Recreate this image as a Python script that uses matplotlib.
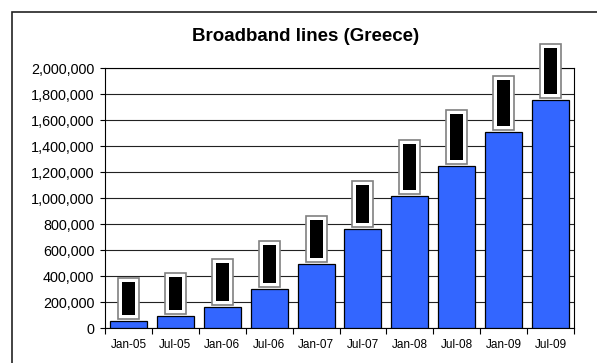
import matplotlib
matplotlib.use("Agg")
import matplotlib.pyplot as plt
from matplotlib.patches import Rectangle
import numpy as np

categories = ["Jan-05", "Jul-05", "Jan-06", "Jul-06", "Jan-07", "Jul-07",
              "Jan-08", "Jul-08", "Jan-09", "Jul-09"]
lines = [54000, 92000, 164000, 302000, 490000, 759000,
         1018000, 1248000, 1505000, 1754000]
yticks = list(range(0, 2000001, 200000))

plt.rcParams['font.family'] = ['Liberation Sans', 'DejaVu Sans']

W, H = 597, 363
fig = plt.figure(figsize=(W / 100, H / 100), dpi=100)
ax = fig.add_axes([105 / W, 1 - 328 / H, (574 - 105) / W, (328 - 68) / H])

x = np.arange(len(categories))
ax.bar(x, lines, width=0.79, color='#3366FF', edgecolor='black',
       linewidth=0.9, zorder=3)

ax.set_xlim(-0.5, len(categories) - 0.5)
ax.set_ylim(0, 2000000)
ax.set_yticks(yticks)
ax.set_yticklabels([f"{v:,}" for v in yticks], fontsize=10.4)
ax.yaxis.grid(True, color='#222222', linewidth=0.8, zorder=0)
ax.set_axisbelow(True)
ax.tick_params(axis='y', direction='out', length=3.6, width=0.8, pad=4)

ax.set_xticks(x)
ax.set_xticklabels(categories, fontsize=8.5)
ax.set_xticks(np.arange(-0.5, len(categories)), minor=True)
ax.tick_params(axis='x', which='major', length=0, pad=8)
ax.tick_params(axis='x', which='minor', direction='out', length=4, width=0.8)

for s in ax.spines.values():
    s.set_color('black')
    s.set_linewidth(0.8)

# data labels (rendered as dark boxes)
fs = 7
fpx = fs * 100 / 72
for xi, v in zip(x, lines):
    lab = f"{v:,}"
    ax.annotate(lab, xy=(xi, v), xytext=(0, 7.5 * 72 / 100),
                textcoords='offset points', rotation=90, ha='center',
                va='bottom', fontsize=fs, color='black', zorder=4,
                bbox=dict(boxstyle=f'square,pad={5.5 / fpx}', fc='white',
                          ec='#808080', lw=1.2))
    ax.annotate(lab, xy=(xi, v), xytext=(0, 7.5 * 72 / 100),
                textcoords='offset points', rotation=90, ha='center',
                va='bottom', fontsize=fs, color='black', zorder=5,
                bbox=dict(boxstyle=f'square,pad={1.5 / fpx}', fc='black',
                          ec='none'))

fig.text(306 / W, 1 - 36.5 / H, "Broadband lines (Greece)", ha='center',
         va='center', fontsize=13.5, fontweight='bold')

fig.add_artist(Rectangle((12 / W, -0.2), 1.2, (H - 12) / H + 0.2,
                         transform=fig.transFigure, fill=False,
                         ec='#222222', lw=1.2))

fig.savefig("out.png", dpi=100)
